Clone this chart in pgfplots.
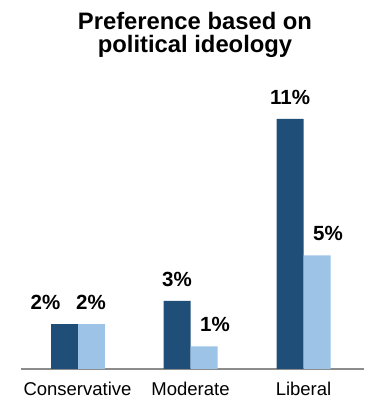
\documentclass[border=0pt]{standalone}
\usepackage{fontspec}
\setmainfont{Liberation Sans}
\usepackage{pgfplots}
\pgfplotsset{compat=1.18}
\definecolor{darkb}{RGB}{31,78,121}
\definecolor{lightb}{RGB}{157,195,230}
\begin{document}
\begin{tikzpicture}[x=1pt,y=1pt]
\useasboundingbox (0,0) rectangle (364,398);
\begin{axis}[
  at={(21pt,29pt)}, anchor=south west,
  scale only axis, width=343pt, height=318.2pt,
  xmin=-0.5, xmax=2.535, ymin=0, ymax=14,
  ybar, bar width=27pt,
  axis x line=bottom, axis y line=none,
  x axis line style={-, draw=gray!90, line width=1.3pt},
  xtick={0,1,2}, xticklabels={Conservative, Moderate, Liberal},
  xtick style={draw=none},
  xticklabel style={font=\fontsize{18.5}{20}\selectfont, anchor=base, yshift=-24.5pt},
  nodes near coords={\pgfmathprintnumber{\pgfplotspointmeta}\%},
  every node near coord/.append style={font=\fontsize{20.5}{22}\selectfont\bfseries, anchor=base, yshift=14.5pt},
  /pgf/number format/assume math mode=true,
  clip=false,
]
\addplot[fill=darkb, draw=none, bar shift=-13.5pt, every node near coord/.append style={xshift=-18.5pt}] coordinates {(0,2)};
\addplot[fill=darkb, draw=none, bar shift=-13.5pt] coordinates {(1,3) (2,11)};
\addplot[fill=lightb, draw=none, bar shift=13.5pt] coordinates {(0,2)};
\addplot[fill=lightb, draw=none, bar shift=13.5pt, every node near coord/.append style={xshift=11pt}] coordinates {(1,1) (2,5)};
\end{axis}
\node[anchor=base, font=\fontsize{23.8}{25}\selectfont\bfseries] at (195,368) {Preference based on};
\node[anchor=base, font=\fontsize{23.8}{25}\selectfont\bfseries] at (195,345) {political ideology};
\end{tikzpicture}
\end{document}
